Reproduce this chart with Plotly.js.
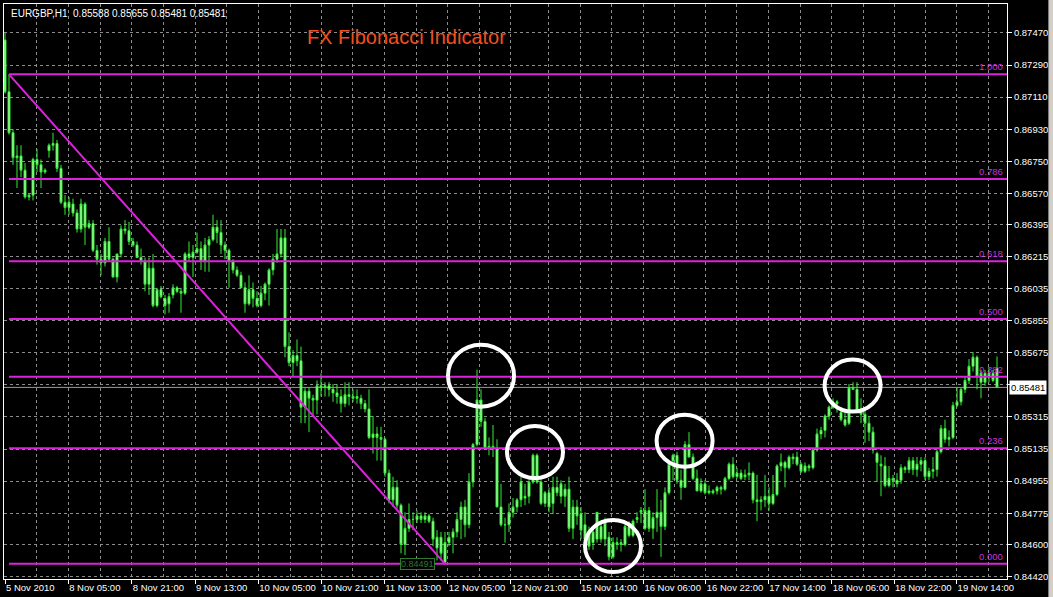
<!DOCTYPE html>
<html>
<head>
<meta charset="utf-8">
<script src="https://cdn.plot.ly/plotly-3.0.1.min.js"></script>
<style>
  html, body { margin: 0; padding: 0; background: #000; }
  #chart { width: 1053px; height: 597px; }
</style>
</head>
<body>
<div id="chart"></div>
<script>
const symbol = "EURGBP,H1";
const chartTitle = "FX Fibonacci Indicator";

// hourly bars
const opens = [
  0.8743, 0.8714, 0.8691, 0.8677, 0.8678, 0.8670, 0.8655, 0.8656, 0.8676, 0.8673,
  0.8669, 0.8681, 0.8684, 0.8685, 0.8671, 0.8652, 0.8649, 0.8651, 0.8646, 0.8637,
  0.8651, 0.8638, 0.8640, 0.8625, 0.8620, 0.8618, 0.8630, 0.8620, 0.8610, 0.8623,
  0.8637, 0.8636, 0.8630, 0.8628, 0.8621, 0.8619, 0.8606, 0.8615, 0.8594, 0.8603,
  0.8598, 0.8595, 0.8600, 0.8604, 0.8602, 0.8601, 0.8623, 0.8621, 0.8624, 0.8626,
  0.8619, 0.8628, 0.8631, 0.8638, 0.8635, 0.8628, 0.8625, 0.8619, 0.8614, 0.8611,
  0.8604, 0.8595, 0.8603, 0.8598, 0.8594, 0.8601, 0.8606, 0.8614, 0.8620, 0.8623,
  0.8632, 0.8571, 0.8562, 0.8566, 0.8563, 0.8537, 0.8546, 0.8542, 0.8541, 0.8549,
  0.8548, 0.8549, 0.8547, 0.8545, 0.8543, 0.8539, 0.8544, 0.8543, 0.8542, 0.8542,
  0.8539, 0.8536, 0.8520, 0.8522, 0.8520, 0.8519, 0.8500, 0.8485, 0.8492, 0.8482,
  0.8460, 0.8469, 0.8474, 0.8474, 0.8476, 0.8474, 0.8476, 0.8473, 0.8458, 0.8464,
  0.8450, 0.8461, 0.8464, 0.8467, 0.8474, 0.8481, 0.8471, 0.8495, 0.8516, 0.8541,
  0.8529, 0.8514, 0.8515, 0.8514, 0.8481, 0.8471, 0.8471, 0.8478, 0.8481, 0.8485,
  0.8486, 0.8487, 0.8495, 0.8510, 0.8495, 0.8483, 0.8489, 0.8483, 0.8492, 0.8487,
  0.8491, 0.8491, 0.8469, 0.8481, 0.8477, 0.8471, 0.8466, 0.8461, 0.8463, 0.8470,
  0.8463, 0.8464, 0.8453, 0.8461, 0.8460, 0.8460, 0.8470, 0.8465, 0.8474, 0.8478,
  0.8469, 0.8479, 0.8469, 0.8475, 0.8478, 0.8470, 0.8489, 0.8507, 0.8510, 0.8496,
  0.8492, 0.8516, 0.8509, 0.8497, 0.8490, 0.8494, 0.8489, 0.8490, 0.8490, 0.8492,
  0.8491, 0.8497, 0.8505, 0.8498, 0.8500, 0.8498, 0.8499, 0.8500, 0.8485, 0.8484,
  0.8485, 0.8487, 0.8483, 0.8488, 0.8504, 0.8506, 0.8503, 0.8509, 0.8509, 0.8505,
  0.8501, 0.8504, 0.8503, 0.8513, 0.8522, 0.8524, 0.8532, 0.8537, 0.8540, 0.8534,
  0.8530, 0.8528, 0.8548, 0.8547, 0.8535, 0.8533, 0.8528, 0.8523, 0.8511, 0.8505,
  0.8504, 0.8493, 0.8497, 0.8496, 0.8496, 0.8503, 0.8502, 0.8507, 0.8502, 0.8505,
  0.8507, 0.8498, 0.8501, 0.8502, 0.8512, 0.8525, 0.8519, 0.8520, 0.8538, 0.8540,
  0.8547, 0.8552, 0.8560, 0.8565, 0.8551, 0.8556, 0.8554, 0.8556, 0.85588
];
const highs = [
  0.8747, 0.87238, 0.8693, 0.8684, 0.8684, 0.8674, 0.8657, 0.8677, 0.8682, 0.8676,
  0.8671, 0.8685, 0.8691, 0.8687, 0.8673, 0.8656, 0.8655, 0.8654, 0.8648, 0.8654,
  0.8652, 0.8642, 0.8642, 0.8628, 0.8623, 0.8632, 0.8638, 0.8621, 0.8623, 0.8639,
  0.8642, 0.8641, 0.8632, 0.8630, 0.8626, 0.8621, 0.8621, 0.8623, 0.8604, 0.8605,
  0.8600, 0.8601, 0.8606, 0.8605, 0.8604, 0.8624, 0.8630, 0.8628, 0.8635, 0.8630,
  0.8632, 0.8633, 0.8645, 0.8642, 0.8642, 0.8630, 0.8626, 0.8620, 0.8616, 0.8613,
  0.8607, 0.8611, 0.8607, 0.8602, 0.8605, 0.8607, 0.8615, 0.8623, 0.8637, 0.8637,
  0.8637, 0.8579, 0.8569, 0.8575, 0.8571, 0.8548, 0.8548, 0.8544, 0.8552, 0.8556,
  0.8551, 0.8551, 0.8550, 0.8550, 0.8547, 0.8551, 0.8551, 0.8547, 0.8547, 0.8544,
  0.8541, 0.8547, 0.8532, 0.8526, 0.8526, 0.8520, 0.8502, 0.8498, 0.8496, 0.8483,
  0.8478, 0.8483, 0.8478, 0.8479, 0.8478, 0.8478, 0.8477, 0.8475, 0.8468, 0.8467,
  0.8467, 0.8467, 0.8469, 0.8478, 0.8484, 0.8485, 0.8500, 0.8517, 0.8558, 0.8547,
  0.8531, 0.8520, 0.8527, 0.8519, 0.8494, 0.8475, 0.8483, 0.8486, 0.8486, 0.8498,
  0.8494, 0.8496, 0.8511, 0.8511, 0.8496, 0.8490, 0.8492, 0.8498, 0.8498, 0.8496,
  0.8494, 0.8498, 0.8485, 0.8485, 0.8481, 0.8478, 0.8470, 0.8468, 0.8478, 0.8473,
  0.8475, 0.8467, 0.8464, 0.8464, 0.8463, 0.8471, 0.8473, 0.8474, 0.8478, 0.8481,
  0.8491, 0.8481, 0.8478, 0.8491, 0.8485, 0.8492, 0.8506, 0.8511, 0.8512, 0.8502,
  0.8518, 0.8523, 0.8511, 0.8502, 0.8497, 0.8496, 0.8493, 0.8491, 0.8493, 0.8493,
  0.8498, 0.8506, 0.8509, 0.8503, 0.8502, 0.8502, 0.8506, 0.8501, 0.8499, 0.8487,
  0.8499, 0.8492, 0.8499, 0.8505, 0.8511, 0.8507, 0.8510, 0.8511, 0.8512, 0.8506,
  0.8506, 0.8505, 0.8514, 0.8525, 0.8526, 0.8533, 0.8538, 0.8542, 0.8541, 0.8537,
  0.8534, 0.8550, 0.8551, 0.8551, 0.8542, 0.8535, 0.8532, 0.8526, 0.8512, 0.8510,
  0.8509, 0.8504, 0.8499, 0.8500, 0.8505, 0.8504, 0.8509, 0.8509, 0.8509, 0.8509,
  0.8509, 0.8503, 0.8509, 0.8513, 0.8527, 0.8530, 0.8524, 0.8540, 0.8548, 0.8548,
  0.8554, 0.8564, 0.8568, 0.8566, 0.8558, 0.8558, 0.8559, 0.8558, 0.85655
];
const lows = [
  0.8713, 0.8690, 0.8673, 0.8660, 0.8666, 0.8654, 0.8653, 0.8653, 0.8669, 0.8660,
  0.8668, 0.8677, 0.8681, 0.8669, 0.8651, 0.8645, 0.8645, 0.8644, 0.8635, 0.8635,
  0.8628, 0.8637, 0.8624, 0.8617, 0.8611, 0.8616, 0.8619, 0.8610, 0.8607, 0.8621,
  0.8634, 0.8628, 0.8627, 0.8621, 0.8617, 0.8602, 0.8600, 0.8593, 0.8593, 0.8598,
  0.8589, 0.8590, 0.8598, 0.8601, 0.8590, 0.8600, 0.8619, 0.8610, 0.8623, 0.8614,
  0.8613, 0.8613, 0.8630, 0.8629, 0.8623, 0.8620, 0.8604, 0.8612, 0.8610, 0.8604,
  0.8590, 0.8594, 0.8593, 0.8593, 0.8593, 0.8597, 0.8594, 0.8611, 0.8618, 0.8621,
  0.8565, 0.8560, 0.8554, 0.8560, 0.8528, 0.8528, 0.8523, 0.8532, 0.8533, 0.8543,
  0.8543, 0.8543, 0.8540, 0.8539, 0.8534, 0.8537, 0.8538, 0.8540, 0.8539, 0.8536,
  0.8534, 0.8519, 0.8511, 0.8507, 0.8507, 0.8498, 0.8483, 0.8481, 0.8480, 0.8455,
  0.8454, 0.8467, 0.8468, 0.8472, 0.8472, 0.8472, 0.8472, 0.8459, 0.8451, 0.8451,
  0.84491, 0.8459, 0.8455, 0.8464, 0.8463, 0.8464, 0.8469, 0.8492, 0.8515, 0.8526,
  0.8513, 0.8510, 0.8509, 0.8481, 0.8470, 0.8461, 0.8467, 0.8475, 0.8478, 0.8481,
  0.8482, 0.8483, 0.8494, 0.8494, 0.8482, 0.8481, 0.8478, 0.8477, 0.8487, 0.8483,
  0.8481, 0.8467, 0.8463, 0.8471, 0.8463, 0.8459, 0.8457, 0.8457, 0.8461, 0.8461,
  0.8459, 0.8451, 0.8452, 0.8457, 0.8456, 0.8459, 0.8464, 0.8464, 0.8472, 0.8472,
  0.8468, 0.8467, 0.8463, 0.8467, 0.8453, 0.8468, 0.8488, 0.8496, 0.8494, 0.8485,
  0.8492, 0.8509, 0.8496, 0.8490, 0.8489, 0.8488, 0.8488, 0.8488, 0.8488, 0.8488,
  0.8490, 0.8496, 0.8497, 0.8497, 0.8496, 0.8496, 0.8496, 0.8483, 0.8473, 0.8479,
  0.8481, 0.8479, 0.8482, 0.8487, 0.8501, 0.8492, 0.8502, 0.8505, 0.8504, 0.8500,
  0.8500, 0.8501, 0.8502, 0.8512, 0.8519, 0.8520, 0.8530, 0.8536, 0.8534, 0.8529,
  0.8526, 0.8527, 0.8547, 0.8534, 0.8528, 0.8517, 0.8518, 0.8511, 0.8495, 0.8487,
  0.8492, 0.8492, 0.8492, 0.8492, 0.8494, 0.8500, 0.8500, 0.8499, 0.8498, 0.8501,
  0.8496, 0.8496, 0.8497, 0.8498, 0.8511, 0.8517, 0.8515, 0.8519, 0.8537, 0.8538,
  0.8545, 0.8550, 0.8557, 0.8547, 0.8542, 0.8549, 0.8551, 0.8551, 0.85481
];
const closes = [
  0.8714, 0.8691, 0.8677, 0.8678, 0.8670, 0.8655, 0.8656, 0.8676, 0.8673, 0.8669,
  0.8670, 0.8684, 0.8685, 0.8671, 0.8652, 0.8649, 0.8652, 0.8646, 0.8637, 0.8651,
  0.8638, 0.8640, 0.8625, 0.8620, 0.8618, 0.8630, 0.8620, 0.8610, 0.8623, 0.8637,
  0.8636, 0.8630, 0.8628, 0.8621, 0.8619, 0.8606, 0.8615, 0.8594, 0.8603, 0.8599,
  0.8594, 0.8599, 0.8604, 0.8602, 0.8601, 0.8623, 0.8621, 0.8624, 0.8626, 0.8619,
  0.8628, 0.8631, 0.8638, 0.8635, 0.8628, 0.8625, 0.8619, 0.8614, 0.8611, 0.8604,
  0.8595, 0.8603, 0.8598, 0.8594, 0.8601, 0.8606, 0.8614, 0.8620, 0.8623, 0.8632,
  0.8571, 0.8562, 0.8566, 0.8563, 0.8537, 0.8546, 0.8542, 0.8541, 0.8549, 0.8548,
  0.8549, 0.8547, 0.8545, 0.8543, 0.8539, 0.8544, 0.8543, 0.8542, 0.8543, 0.8539,
  0.8536, 0.8520, 0.8522, 0.8520, 0.8519, 0.8500, 0.8485, 0.8492, 0.8482, 0.8460,
  0.8469, 0.8474, 0.8474, 0.8476, 0.8474, 0.8476, 0.8473, 0.8463, 0.8464, 0.8455,
  0.8461, 0.8464, 0.8467, 0.8474, 0.8481, 0.8471, 0.8495, 0.8516, 0.8541, 0.8529,
  0.8514, 0.8515, 0.8514, 0.8481, 0.8471, 0.8471, 0.8478, 0.8481, 0.8485, 0.8495,
  0.8487, 0.8495, 0.8510, 0.8495, 0.8483, 0.8489, 0.8481, 0.8492, 0.8489, 0.8494,
  0.8487, 0.8469, 0.8481, 0.8476, 0.8468, 0.8463, 0.8459, 0.8467, 0.8478, 0.8463,
  0.8472, 0.8453, 0.8461, 0.8460, 0.8461, 0.8470, 0.8465, 0.8473, 0.8475, 0.8479,
  0.8479, 0.8469, 0.8475, 0.8478, 0.8470, 0.8489, 0.8505, 0.8510, 0.8496, 0.8492,
  0.8516, 0.8509, 0.8497, 0.8490, 0.8494, 0.8489, 0.8490, 0.8489, 0.8492, 0.8491,
  0.8497, 0.8505, 0.8498, 0.8500, 0.8497, 0.8499, 0.8500, 0.8485, 0.8484, 0.8485,
  0.8487, 0.8483, 0.8488, 0.8504, 0.8506, 0.8503, 0.8509, 0.8508, 0.8505, 0.8501,
  0.8504, 0.8503, 0.8513, 0.8522, 0.8524, 0.8532, 0.8537, 0.8540, 0.8539, 0.8530,
  0.8527, 0.8548, 0.8547, 0.8535, 0.8533, 0.8528, 0.8523, 0.8513, 0.8506, 0.8504,
  0.8493, 0.8497, 0.8496, 0.8494, 0.8503, 0.8502, 0.8507, 0.8502, 0.8505, 0.8507,
  0.8498, 0.8501, 0.8502, 0.8512, 0.8525, 0.8519, 0.8520, 0.8538, 0.8540, 0.8547,
  0.8552, 0.8560, 0.8565, 0.8554, 0.8556, 0.8551, 0.8556, 0.8552, 0.85481
];

// price scale on the right
const priceTicks = [0.87470, 0.87290, 0.87110, 0.86930, 0.86750, 0.86570, 0.86395, 0.86215, 0.86035,
  0.85855, 0.85675, 0.85495, 0.85315, 0.85135, 0.84955, 0.84775, 0.84600, 0.84420];
const hiddenPriceTick = 0.85495; // sits under the bid box

// time scale (bar positions of the labels and of the extra grid lines)
const timeTickBars = [0, 15.8, 31.7, 47.5, 63.3, 79, 94.8, 110.7, 126.4, 143.75, 159.6, 175.2, 190.8, 206.7, 222.25, 237.9];
const timeTickLabels = ["5 Nov 2010", "8 Nov 05:00", "8 Nov 21:00", "9 Nov 13:00", "10 Nov 05:00", "10 Nov 21:00",
  "11 Nov 13:00", "12 Nov 05:00", "12 Nov 21:00", "15 Nov 14:00", "16 Nov 06:00", "16 Nov 22:00",
  "17 Nov 14:00", "18 Nov 06:00", "18 Nov 22:00", "19 Nov 14:00"];
const timeGridBars = [7.9, 23.75, 39.6, 55.4, 71.25, 86.9, 102.75, 118.5, 135.8, 151.7, 167.3, 182.9, 198.75, 214.6, 230, 245.8];

// fibonacci retracement
const fibLevels = [0, 0.236, 0.382, 0.5, 0.618, 0.786, 1];
const fibStartBar = 1;

// highlighted swing points: [bar, price]
const circleSpots = [[119, 0.85547], [132.5, 0.85118], [152, 0.84591], [169.9, 0.85182], [211.9, 0.85491]];

const bars = closes.map((c, i) => i);
const last = closes.length - 1;
const fibHigh = highs[fibStartBar];
const fibLow = Math.min(...lows);
const fibEndBar = lows.indexOf(fibLow);
const bid = closes[last];

const xRange = [-0.25, 250.5];
const yRange = [0.844058, 0.876326];

const magenta = "#dd22dd";
const font = "Liberation Sans, Arial, sans-serif";

const candles = {
    type: "candlestick",
    x: bars,
    open: opens,
    high: highs,
    low: lows,
    close: closes,
    increasing: { line: { color: "#33ee33", width: 1 }, fillcolor: "#bfffbf" },
    decreasing: { line: { color: "#33ee33", width: 1 }, fillcolor: "#bfffbf" },
    whiskerwidth: 0,
    hoverinfo: "skip",
    showlegend: false,
};

const shapes = [];
const annotations = [];

// bid line
shapes.push({
    type: "line", xref: "paper", x0: 0, x1: 1, yref: "y", y0: bid, y1: bid,
    line: { color: "#9a9a9a", width: 1 }, layer: "below",
});

fibLevels.forEach((lvl) => {
    const price = fibLow + lvl * (fibHigh - fibLow);
    shapes.push({
        type: "line", xref: "x", yref: "y",
        x0: fibStartBar, x1: xRange[1], y0: price, y1: price,
        line: { color: magenta, width: 2 },
    });
    annotations.push({
        xref: "paper", x: 0.998, xanchor: "right",
        yref: "y", y: price, yanchor: "bottom",
        text: lvl.toFixed(3), showarrow: false,
        font: { family: font, size: 9.5, color: "#d030d8" },
    });
});

// trend line of the retracement
shapes.push({
    type: "line", xref: "x", yref: "y",
    x0: fibStartBar, y0: fibHigh, x1: fibEndBar, y1: fibLow,
    line: { color: magenta, width: 2 },
});

circleSpots.forEach(([bar, price], i) => {
    const r = i === 0 ? 33 : 28;
    shapes.push({
        type: "circle", xref: "x", yref: "y",
        xsizemode: "pixel", ysizemode: "pixel",
        xanchor: bar, yanchor: price,
        x0: -r, x1: r, y0: -(r - 2), y1: r - 2,
        line: { color: "#ffffff", width: 4 },
    });
});

// window frame strip on the right
shapes.push({
    type: "rect", xref: "paper", yref: "paper",
    x0: 1.0415, x1: 1.05, y0: -0.05, y1: 1.01,
    fillcolor: "#d4d0c8", line: { color: "#808080", width: 1 },
});

annotations.push({
    xref: "x", x: fibEndBar - 7, yref: "y", y: fibLow,
    text: fibLow.toFixed(5), showarrow: false,
    font: { family: font, size: 9, color: "#2f7a2f" },
    bgcolor: "#000000", bordercolor: "#2f7a2f", borderwidth: 1, borderpad: 0,
});

annotations.push({
    xref: "paper", x: 1.002, xanchor: "left",
    yref: "y", y: bid, yanchor: "middle",
    text: bid.toFixed(5), showarrow: false,
    font: { family: font, size: 9.5, color: "#000000" },
    bgcolor: "#ffffff", borderpad: 1,
});

annotations.push({
    xref: "paper", x: 0.005, xanchor: "left",
    yref: "paper", y: 0.984, yanchor: "middle",
    text: `${symbol}  ${opens[last].toFixed(5)} ${highs[last].toFixed(5)} ${lows[last].toFixed(5)} ${closes[last].toFixed(5)}`,
    showarrow: false,
    font: { family: font, size: 10, color: "#ffffff" },
});

const gridStyle = { gridcolor: "#8c8c8c", griddash: "3px,3px", gridwidth: 1 };

const layout = {
    width: 1053,
    height: 597,
    paper_bgcolor: "#000000",
    plot_bgcolor: "#000000",
    margin: { l: 4, r: 46, t: 4, b: 18 },
    showlegend: false,
    title: {
        text: chartTitle,
        xref: "paper", x: 0.302, xanchor: "left",
        yref: "paper", y: 0.943, yanchor: "middle",
        font: { family: font, size: 20, color: "#f0501e" },
    },
    xaxis: {
        range: xRange,
        rangeslider: { visible: false },
        tickmode: "array",
        tickvals: timeTickBars,
        ticktext: timeTickLabels,
        tickangle: 0,
        ticklabelposition: "outside right",
        ticks: "outside", ticklen: 4, tickcolor: "#ffffff",
        tickfont: { family: font, size: 9.5, color: "#ffffff" },
        showgrid: true, ...gridStyle,
        minor: { tickmode: "array", tickvals: timeGridBars, showgrid: true, ticks: "", ...gridStyle },
        showline: true, linecolor: "#ffffff", linewidth: 1, mirror: true,
        zeroline: false, fixedrange: true,
    },
    yaxis: {
        range: yRange,
        side: "right",
        tickmode: "array",
        tickvals: priceTicks,
        ticktext: priceTicks.map((p) => (p === hiddenPriceTick ? "" : p.toFixed(5))),
        ticks: "outside", ticklen: 4, tickcolor: "#ffffff",
        tickfont: { family: font, size: 9.5, color: "#ffffff" },
        showgrid: true, ...gridStyle,
        showline: true, linecolor: "#ffffff", linewidth: 1, mirror: true,
        zeroline: false, fixedrange: true,
    },
    shapes: shapes,
    annotations: annotations,
};

Plotly.newPlot(document.getElementById("chart"), [candles], layout, { displayModeBar: false, staticPlot: true });
</script>
</body>
</html>
